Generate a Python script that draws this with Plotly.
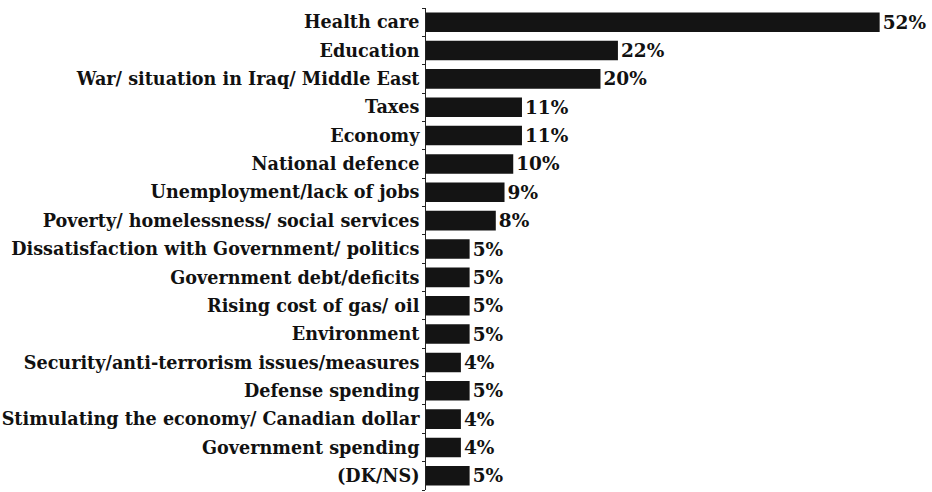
import plotly.graph_objects as go

# Most important issues, share of respondents (%)
issues = [
    "Health care",
    "Education",
    "War/ situation in Iraq/ Middle East",
    "Taxes",
    "Economy",
    "National defence",
    "Unemployment/lack of jobs",
    "Poverty/ homelessness/ social services",
    "Dissatisfaction with Government/ politics",
    "Government debt/deficits",
    "Rising cost of gas/ oil",
    "Environment",
    "Security/anti-terrorism issues/measures",
    "Defense spending",
    "Stimulating the economy/ Canadian dollar",
    "Government spending",
    "(DK/NS)",
]
shares = [52, 22, 20, 11, 11, 10, 9, 8, 5, 5, 5, 5, 4, 5, 4, 4, 5]
share_labels = [f"{v}%" for v in shares]

font_family = "DejaVu Serif, serif"

fig = go.Figure(
    go.Bar(
        x=shares,
        y=issues,
        orientation="h",
        marker=dict(color="#141414", line=dict(width=0)),
        text=share_labels,
        texttemplate="<b>%{text}</b>",
        textposition="outside",
        cliponaxis=False,
        textfont=dict(family=font_family, size=18.5, color="#111111"),
        width=0.69,
    )
)

fig.update_layout(
    width=932,
    height=492,
    margin=dict(l=426, r=0, t=8, b=2),
    paper_bgcolor="white",
    plot_bgcolor="white",
    showlegend=False,
    font=dict(family=font_family, size=18, color="#111111"),
    uniformtext=dict(minsize=18, mode="show"),
)

fig.update_xaxes(
    range=[0, 58],
    visible=False,
    showgrid=False,
    zeroline=False,
)

fig.update_yaxes(
    autorange="reversed",
    showline=True,
    linecolor="#222222",
    linewidth=1,
    ticks="outside",
    tickson="boundaries",
    ticklen=3,
    tickcolor="#222222",
    showgrid=False,
    tickfont=dict(family=font_family, size=17.6, color="#111111"),
    ticklabelstandoff=2,
    tickvals=issues,
    ticktext=[f"<b>{c}</b>" for c in issues],
)

fig.write_html("out.html")
